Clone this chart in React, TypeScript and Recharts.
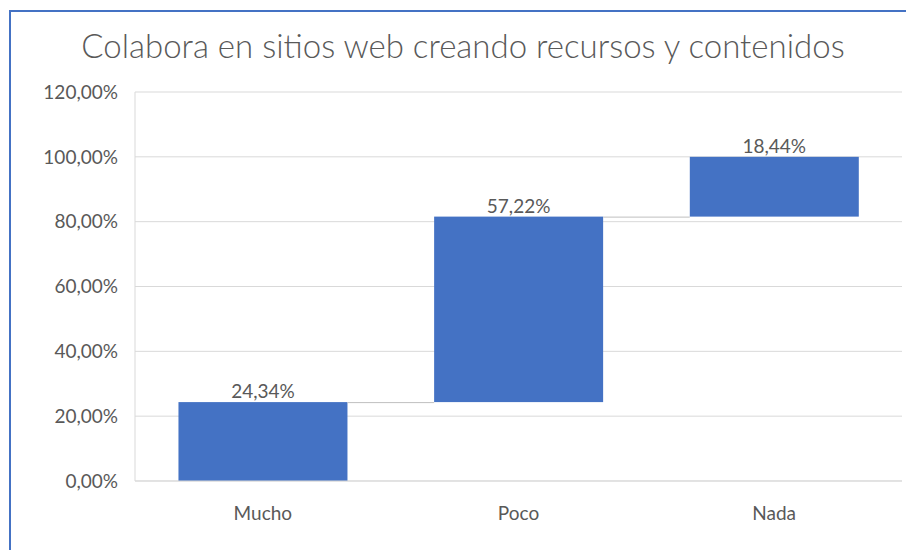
import { BarChart, Bar, XAxis, YAxis, CartesianGrid, LabelList } from "recharts";

const categories = ["Mucho", "Poco", "Nada"];
const values = [24.34, 57.22, 18.44];
const yTicks = [0, 20, 40, 60, 80, 100, 120];

const CHART_W = 906;
const CHART_H = 550;
const Y_AXIS_W = 135;
const MARGIN = { top: 92, right: 4, left: 0, bottom: 29 };
const BAND = (CHART_W - Y_AXIS_W - MARGIN.left - MARGIN.right) / categories.length;

const font = "Lato, 'Open Sans', sans-serif";
const textColor = "#595959";
const barColor = "#4472C4";

// waterfall: an invisible base under each visible step
let running = 0;
const data = categories.map((name, i) => {
  const base = running;
  running += values[i];
  return { name, base, value: values[i] };
});

const pct = (v: number) => v.toFixed(2).replace(".", ",") + "%";

function StepBar(props: any) {
  const { x, y, width, height, index } = props;
  const gap = BAND - width;
  return (
    <g>
      <rect x={x} y={y} width={width} height={height} fill={barColor} />
      {index < data.length - 1 && (
        <line
          x1={x + width}
          x2={x + width + gap}
          y1={y + 0.5}
          y2={y + 0.5}
          stroke="#BFBFBF"
          strokeWidth={1}
        />
      )}
    </g>
  );
}

export default function App() {
  return (
    <div
      style={{
        position: "fixed",
        left: 0,
        top: 0,
        width: CHART_W,
        height: CHART_H,
        overflow: "hidden",
        background: "#fff",
      }}
    >
      <svg
        width={CHART_W}
        height={CHART_H}
        style={{ position: "absolute", left: 0, top: 0 }}
      >
        <polyline
          points={`10,${CHART_H} 10,11 ${CHART_W + 10},11`}
          fill="none"
          stroke="#4472C4"
          strokeWidth={2}
        />
        <text
          x={463}
          y={58}
          textAnchor="middle"
          fontFamily={font}
          fontWeight={300}
          fontSize={33}
          fill={textColor}
        >
          Colabora en sitios web creando recursos y contenidos
        </text>
      </svg>
      <div style={{ position: "absolute", left: 0, top: 0 }}>
        <BarChart
          width={CHART_W}
          height={CHART_H}
          data={data}
          margin={MARGIN}
          barCategoryGap="17%"
        >
          <CartesianGrid vertical={false} stroke="#D9D9D9" />
          <XAxis
            dataKey="name"
            height={40}
            axisLine={{ stroke: "#D9D9D9" }}
            tickLine={false}
            tickSize={0}
            tickMargin={26}
            tick={{ fill: textColor, fontSize: 19, fontFamily: font }}
          />
          <YAxis
            width={Y_AXIS_W}
            domain={[0, 120]}
            ticks={yTicks}
            tickFormatter={pct}
            axisLine={{ stroke: "#D9D9D9" }}
            tickLine={false}
            tickSize={0}
            tickMargin={17}
            tick={{ fill: textColor, fontSize: 19, fontFamily: font }}
          />
          <Bar dataKey="base" stackId="w" fill="transparent" isAnimationActive={false} />
          <Bar
            dataKey="value"
            stackId="w"
            fill={barColor}
            shape={StepBar}
            isAnimationActive={false}
          >
            <LabelList
              dataKey="value"
              position="top"
              offset={4}
              formatter={(v: any) => pct(Number(v))}
              fill={textColor}
              fontSize={19}
              fontFamily={font}
            />
          </Bar>
        </BarChart>
      </div>
    </div>
  );
}
